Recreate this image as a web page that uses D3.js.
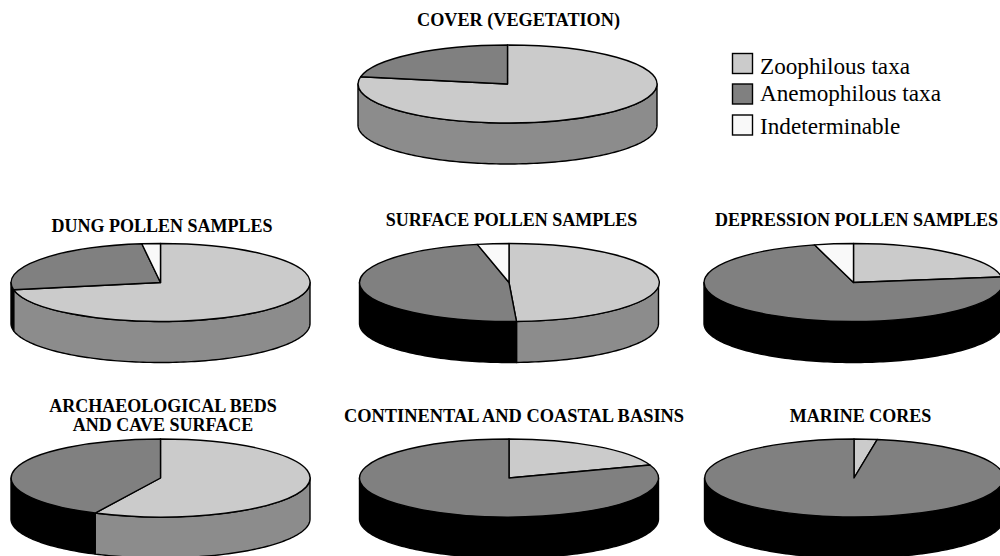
<!DOCTYPE html>
<html lang="en">
<head>
  <meta charset="UTF-8">
  <script src="https://d3js.org/d3.v7.min.js"></script>
  <title>Pollen pie charts</title>
  <style>
    html, body { margin: 0; background: #fff; }
    svg { display: block; }
    text { font-family: "Liberation Serif", serif; fill: #000; }
  </style>
</head>

<body>
  <svg width="1000" height="556" id="chart"></svg>
  <script>
    /* DATA (percent) */
    const categories = ["Zoophilous taxa", "Anemophilous taxa", "Indeterminable"];
    const panels = ["cover", "dung", "surface", "depression", "archaeological", "basins", "marine"];
    const zoophilous = [78, 72, 49.2, 22.7, 57.2, 19.6, 2.5];
    const anemophilous = [22, 26, 47.4, 73.1, 42.8, 80.4, 97.5];
    const indeterminable = [0, 2, 3.4, 4.2, 0, 0, 0];
    const titles = [
      ["COVER (VEGETATION)"],
      ["DUNG POLLEN SAMPLES"],
      ["SURFACE POLLEN SAMPLES"],
      ["DEPRESSION POLLEN SAMPLES"],
      ["ARCHAEOLOGICAL BEDS", "AND CAVE SURFACE"],
      ["CONTINENTAL AND COASTAL BASINS"],
      ["MARINE CORES"]
    ];

    /* LAYOUT */
    const pieX = [507.5, 160.5, 509, 853.5, 160.5, 509, 854];
    const pieY = [84, 282.5, 282.5, 282.5, 478, 478, 478];
    const titleX = [518.5, 162, 511.5, 856.5, 163, 514, 860.5];
    const titleY = [26, 232, 226, 226, 412, 422, 422];
    const titleSize = [18.2, 18, 18, 18, 18, 18.4, 18];
    const rx = 149.5, ry = 39, depth = 41;
    const topFill = ["#cbcbcb", "#808080", "#f9f9f9"];
    const sideFill = ["#8c8c8c", "#000000", "#f9f9f9"];

    const svg = d3.select("#chart");
    const pie = d3.pie().sort(null);
    const arc = d3.arc().innerRadius(0).outerRadius(1);

    // the wall only shows on the front half of the ellipse
    const wall = d3.area()
      .x(d => rx * Math.sin(d))
      .y0(d => -ry * Math.cos(d))
      .y1(d => -ry * Math.cos(d) + depth);

    panels.forEach((name, i) => {
      const slices = pie([zoophilous[i], anemophilous[i], indeterminable[i]]);
      const g = svg.append("g").attr("class", name)
        .attr("transform", `translate(${pieX[i]},${pieY[i]})`);

      slices.forEach((s, k) => {
        const a0 = Math.max(s.startAngle, Math.PI / 2);
        const a1 = Math.min(s.endAngle, Math.PI * 1.5);
        if (a1 <= a0) return;
        const n = Math.ceil((a1 - a0) * 40);
        g.append("path")
          .attr("d", wall(d3.range(n + 1).map(j => a0 + (a1 - a0) * j / n)))
          .attr("fill", sideFill[k])
          .attr("stroke", "#000")
          .attr("stroke-width", 1.4)
          .attr("stroke-linejoin", "round");
      });

      // unit arcs squashed into the ellipse
      g.append("g")
        .attr("transform", `scale(${rx},${ry})`)
        .selectAll("path")
        .data(slices.filter(s => s.value > 0))
        .join("path")
        .attr("d", arc)
        .attr("fill", s => topFill[s.index])
        .attr("stroke", "#000")
        .attr("stroke-width", 1.4)
        .attr("stroke-linejoin", "round")
        .attr("vector-effect", "non-scaling-stroke");

      titles[i].forEach((line, l) => {
        svg.append("text")
          .attr("x", titleX[i])
          .attr("y", titleY[i] + l * 18.5)
          .attr("text-anchor", "middle")
          .attr("font-size", titleSize[i])
          .attr("font-weight", "bold")
          .text(line);
      });
    });

    /* LEGEND */
    const legendY = d3.scaleOrdinal().domain(categories).range([53.5, 84, 115]);
    const legendBase = d3.scaleOrdinal().domain(categories).range([74, 100.5, 134]);
    const legend = svg.append("g").selectAll("g").data(categories).join("g");
    legend.append("rect")
      .attr("x", 732.5)
      .attr("y", d => legendY(d))
      .attr("width", 20)
      .attr("height", 20)
      .attr("fill", (d, i) => topFill[i])
      .attr("stroke", "#000")
      .attr("stroke-width", 1.4);
    legend.append("text")
      .attr("x", 760)
      .attr("y", d => legendBase(d))
      .attr("font-size", 23.2)
      .text(d => d);
  </script>
</body>
</html>
